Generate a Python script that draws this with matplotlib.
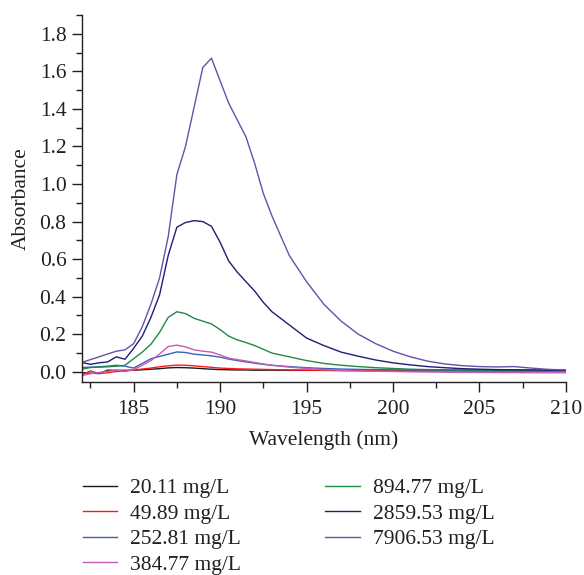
import numpy as np
import matplotlib
matplotlib.use("Agg")
import matplotlib.pyplot as plt
from matplotlib.ticker import MultipleLocator

# wavelength grid (nm)
wavelength = [182, 182.5, 183, 183.5, 184, 184.5, 185, 185.5, 186, 186.5,
              187, 187.5, 188, 188.5, 189, 189.5, 190, 190.5, 191, 191.5,
              192, 192.5, 193, 194, 195, 196, 197, 198, 199, 200,
              201, 202, 203, 204, 205, 206, 207, 208, 209, 210]

conc_20 = [-0.004, -0.007, -0.009, 0.009, 0.008, 0.008, 0.009, 0.011, 0.014, 0.017,
           0.021, 0.023, 0.022, 0.020, 0.017, 0.014, 0.012, 0.011, 0.010, 0.010,
           0.009, 0.009, 0.009, 0.008, 0.008, 0.008, 0.007, 0.007, 0.007, 0.007,
           0.006, 0.006, 0.006, 0.006, 0.006, 0.006, 0.006, 0.006, 0.006, 0.006]
conc_50 = [-0.016, 0.005, -0.009, -0.005, 0.002, 0.005, 0.009, 0.015, 0.020, 0.027,
           0.032, 0.036, 0.035, 0.032, 0.028, 0.024, 0.020, 0.018, 0.016, 0.015,
           0.014, 0.013, 0.012, 0.010, 0.009, 0.008, 0.007, 0.007, 0.006, 0.006,
           0.005, 0.005, 0.005, 0.005, 0.004, 0.004, 0.004, 0.004, 0.004, 0.004]
conc_253 = [0.023, 0.025, 0.027, 0.030, 0.035, 0.030, 0.020, 0.045, 0.070, 0.082,
            0.094, 0.106, 0.103, 0.094, 0.090, 0.085, 0.078, 0.068, 0.060, 0.053,
            0.046, 0.040, 0.035, 0.028, 0.022, 0.018, 0.015, 0.013, 0.012, 0.011,
            0.010, 0.010, 0.009, 0.009, 0.009, 0.008, 0.008, 0.008, 0.008, 0.008]
conc_385 = [-0.020, -0.010, -0.003, 0.002, 0.009, 0.002, 0.012, 0.035, 0.060, 0.095,
            0.135, 0.142, 0.133, 0.117, 0.110, 0.105, 0.090, 0.073, 0.065, 0.058,
            0.050, 0.042, 0.035, 0.025, 0.018, 0.012, 0.008, 0.005, 0.003, 0.002,
            0.000, -0.001, -0.002, -0.003, -0.003, -0.004, -0.004, -0.005, -0.005, -0.005]
conc_895 = [0.014, 0.023, 0.025, 0.027, 0.030, 0.035, 0.070, 0.105, 0.147, 0.210,
            0.290, 0.320, 0.310, 0.285, 0.270, 0.255, 0.225, 0.190, 0.170, 0.156,
            0.140, 0.120, 0.100, 0.080, 0.060, 0.045, 0.035, 0.028, 0.022, 0.018,
            0.014, 0.012, 0.011, 0.010, 0.010, 0.009, 0.009, 0.008, 0.008, 0.008]
conc_2860 = [0.050, 0.040, 0.048, 0.053, 0.080, 0.067, 0.125, 0.190, 0.290, 0.410,
             0.620, 0.770, 0.795, 0.805, 0.800, 0.775, 0.690, 0.590, 0.530, 0.480,
             0.430, 0.370, 0.320, 0.250, 0.180, 0.140, 0.105, 0.083, 0.063, 0.048,
             0.037, 0.028, 0.022, 0.017, 0.014, 0.012, 0.011, 0.010, 0.009, 0.008]
conc_7907 = [0.050, 0.065, 0.080, 0.095, 0.110, 0.117, 0.150, 0.240, 0.360, 0.500,
             0.720, 1.050, 1.200, 1.410, 1.620, 1.670, 1.550, 1.430, 1.340, 1.250,
             1.110, 0.950, 0.830, 0.620, 0.480, 0.360, 0.270, 0.200, 0.150, 0.110,
             0.080, 0.057, 0.042, 0.033, 0.028, 0.026, 0.028, 0.020, 0.013, 0.010]

labels = ["20.11 mg/L", "49.89 mg/L", "252.81 mg/L", "384.77 mg/L",
          "894.77 mg/L", "2859.53 mg/L", "7906.53 mg/L"]
series = [conc_20, conc_50, conc_253, conc_385, conc_895, conc_2860, conc_7907]
colors = ["#1a1a1a", "#ff1a1a", "#3a62b4", "#c75bb8", "#1f8a45", "#1c1f73", "#6650aa"]

text_color = "#231f20"
plt.rcParams['font.family'] = ['Liberation Serif', 'DejaVu Serif']
plt.rcParams['font.size'] = 15.5
plt.rcParams['text.color'] = text_color
plt.rcParams['axes.labelcolor'] = text_color
plt.rcParams['xtick.color'] = text_color
plt.rcParams['ytick.color'] = text_color

fig = plt.figure(figsize=(5.84, 5.75), dpi=100)
ax = fig.add_axes([0.140, 0.336, 0.829, 0.638])

for vals, lab, col in zip(series, labels, colors):
    ax.plot(wavelength, vals, color=col, linewidth=1.0, label=lab)

ax.set_xlim(182, 210)
ax.set_ylim(-0.053, 1.9)
ax.xaxis.set_major_locator(MultipleLocator(5))
ax.xaxis.set_minor_locator(MultipleLocator(2.5))
ax.yaxis.set_major_locator(MultipleLocator(0.2))
ax.yaxis.set_minor_locator(MultipleLocator(0.1))
ax.yaxis.set_major_formatter(plt.FuncFormatter(lambda v, p: f"{v:.1f}"))
ax.tick_params(which='major', direction='out', length=7, width=1)
ax.tick_params(which='minor', direction='out', length=4, width=1)
ax.tick_params(axis='y', pad=4)
ax.tick_params(axis='x', pad=6)

for side in ['top', 'right']:
    ax.spines[side].set_visible(False)
for side in ['left', 'bottom']:
    ax.spines[side].set_linewidth(1.0)
    ax.spines[side].set_color(text_color)

ax.set_xlabel("Wavelength (nm)", labelpad=8)
ax.set_ylabel("Absorbance", labelpad=6)

fig.legend(loc='upper left', bbox_to_anchor=(0.142, 0.168), ncol=2, frameon=False,
           handlelength=1.6, handletextpad=0.6, columnspacing=3.9, labelspacing=0.25,
           borderaxespad=0, borderpad=0)

fig.savefig("out.png", dpi=100)
